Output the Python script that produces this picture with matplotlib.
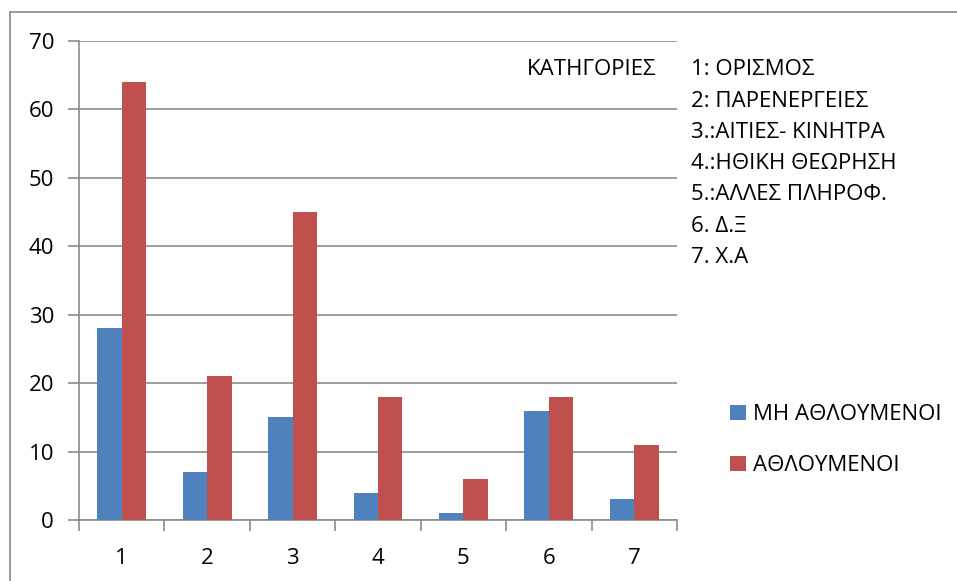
import numpy as np
import matplotlib.pyplot as plt
from matplotlib.patches import Rectangle

plt.rcParams['font.family'] = ['Open Sans', 'DejaVu Sans']

categories = ['1', '2', '3', '4', '5', '6', '7']
non_athletes = [28, 7, 15, 4, 1, 16, 3]
athletes = [64, 21, 45, 18, 6, 18, 11]
series_names = ['ΜΗ ΑΘΛΟΥΜΕΝΟΙ', 'ΑΘΛΟΥΜΕΝΟΙ']
category_title = 'ΚΑΤΗΓΟΡΙΕΣ'
category_notes = ['1: ΟΡΙΣΜΟΣ', '2: ΠΑΡΕΝΕΡΓΕΙΕΣ', '3.:ΑΙΤΙΕΣ- ΚΙΝΗΤΡΑ',
                  '4.:ΗΘΙΚΗ ΘΕΩΡΗΣΗ', '5.:ΑΛΛΕΣ ΠΛΗΡΟΦ.', '6. Δ.Ξ', '7. Χ.Α']

W, H = 957, 581
fs = 16
fig = plt.figure(figsize=(W / 100, H / 100), dpi=100)

# outer chart frame
fig.patches.append(Rectangle((10 / W, -0.05), 1.1, 1 - 12 / H + 0.05,
                             transform=fig.transFigure, fill=False,
                             edgecolor='#868686', lw=1.2))

ax = fig.add_axes([79 / W, 61 / H, 598 / W, 479 / H])
grid_c = '#8c8c8c'
x = np.arange(len(categories))
bw = 1 / 3.5
ax.bar(x - bw / 2, non_athletes, bw, color='#4F81BD', label=series_names[0], zorder=3)
ax.bar(x + bw / 2, athletes, bw, color='#C0504D', label=series_names[1], zorder=3)

ax.set_xlim(-0.5, len(categories) - 0.5)
ax.set_ylim(0, 70)
ax.set_yticks(range(0, 71, 10))
ax.yaxis.grid(True, color=grid_c, lw=1.2, zorder=0)
ax.set_xticks(x)
ax.set_xticklabels(categories)
ax.set_xticks(np.arange(-0.5, len(categories), 1), minor=True)
ax.tick_params(axis='x', which='major', length=0, pad=20, labelsize=fs)
ax.tick_params(axis='x', which='minor', length=8, color=grid_c, width=1.2)
ax.tick_params(axis='y', length=8, color=grid_c, width=1.2, pad=10, labelsize=fs)
for s in ['top', 'right']:
    ax.spines[s].set_visible(False)
for s in ['left', 'bottom']:
    ax.spines[s].set_color(grid_c)
    ax.spines[s].set_linewidth(1.2)

fig.text(527 / W, 1 - 70 / H, category_title, fontsize=fs, va='center', ha='left')
for i, note in enumerate(category_notes):
    fig.text(691 / W, 1 - (70 + i * 31.2) / H, note, fontsize=fs, va='center', ha='left')

fig.legend(loc='upper left', bbox_to_anchor=(719 / W, 1 - 393 / H), frameon=False,
           fontsize=fs, handlelength=0.7, handleheight=0.7, handletextpad=0.35,
           labelspacing=1.35, borderpad=0)

fig.savefig('out.png', dpi=100)
